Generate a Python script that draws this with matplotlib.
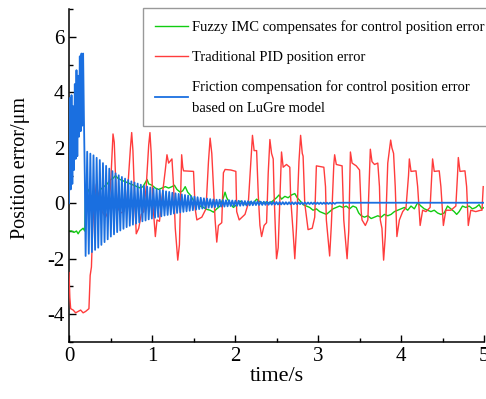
import numpy as np
from matplotlib import pyplot as plt
from matplotlib.ticker import MultipleLocator

# ---- data ----
# traditional PID position error (breakpoints)
red_t = [0.00, 0.01, 0.02, 0.05, 0.08, 0.11, 0.14, 0.17, 0.20, 0.24, 0.255, 0.27, 0.285, 0.30,
         0.33, 0.36, 0.40, 0.44, 0.47, 0.50,
         0.53, 0.545, 0.56, 0.58, 0.62, 0.66, 0.70,
         0.74, 0.755, 0.77, 0.79, 0.81, 0.84, 0.87, 0.90, 0.93,
         0.96, 0.975, 0.99, 1.01, 1.04, 1.06, 1.09, 1.12,
         1.16, 1.18, 1.20, 1.24, 1.26, 1.28, 1.31, 1.33,
         1.357, 1.37, 1.38, 1.50, 1.52, 1.54, 1.60, 1.65,
         1.68, 1.70, 1.72, 1.74, 1.76, 1.78, 1.80, 1.84,
         1.86, 1.88, 1.95, 2.01, 2.02, 2.05, 2.12, 2.16,
         2.19, 2.21, 2.23, 2.26, 2.28, 2.30, 2.32, 2.35, 2.38,
         2.40, 2.42, 2.44, 2.46, 2.47, 2.49, 2.50, 2.52,
         2.56, 2.58, 2.62, 2.66, 2.67, 2.70, 2.72, 2.74,
         2.77, 2.79, 2.81, 2.82, 2.84, 2.88, 2.93, 2.96,
         2.98, 3.07, 3.09, 3.10, 3.14, 3.16,
         3.19, 3.20, 3.22, 3.29, 3.30, 3.31, 3.35, 3.37,
         3.39, 3.41, 3.46, 3.50, 3.52, 3.53, 3.57, 3.60,
         3.63, 3.65, 3.68, 3.72, 3.74, 3.75, 3.77, 3.79, 3.81,
         3.84, 3.875, 3.89, 3.91, 3.93, 3.95, 3.98, 4.02, 4.06,
         4.09, 4.10, 4.12, 4.18, 4.20, 4.23, 4.26, 4.30, 4.35,
         4.37, 4.38, 4.40, 4.46, 4.48, 4.51, 4.54, 4.60, 4.66,
         4.68, 4.69, 4.71, 4.77, 4.79, 4.81, 4.84, 4.90, 4.96, 4.975, 4.99]
red_v = [-2.5, -3.4, -3.8, -3.85, -3.95, -3.9, -3.85, -3.95, -3.9, -3.8, -2.6, -2.3, -0.9, -0.1,
         0.7, 0.2, -0.3, -0.5, -0.3, 0.6,
         2.5, 2.2, 1.0, -0.1, -0.35, -0.3, 0.2,
         2.0, 2.55, 1.9, 0.2, -1.1, -0.9, -0.4, -0.3, 0.6,
         2.1, 2.55, 1.8, 0.0, -1.2, -0.6, -0.65, 0.2,
         1.2, 1.75, 1.45, 1.6, 0.6, -0.9, -2.05, -1.5,
         1.75, 1.3, 1.17, 1.15, -0.2, -0.6, -0.5, -0.2,
         1.5, 2.35, 1.8, 0.6, -0.6, -1.4, -0.8, -0.7,
         1.1, 1.22, 1.2, 1.15, -0.3, -0.6, -0.4, 0.0,
         1.5, 2.45, 1.9, 1.9, 0.3, -0.8, -1.2, -0.8, -0.7,
         1.1, 2.3, 1.8, 1.6, 0.4, -1.3, -2.0, -1.6,
         1.85, 1.3, 1.4, 1.3, 0.2, -1.05, -2.0, -0.9,
         1.5, 2.45, 1.8, 1.7, 0.0, -0.95, -0.9, -0.5,
         1.35, 1.3, 0.6, -0.6, -1.9, -0.8,
         1.4, 1.75, 1.4, 1.35, 0.4, -0.6, -2.0, -1.0,
         1.85, 1.45, 1.35, 1.2, -0.3, -0.6, -0.8, -0.6,
         1.95, 1.5, 1.4, 1.45, 0.6, -0.6, -0.9, -2.05, -1.2,
         1.45, 2.28, 2.0, 1.8, 0.6, -1.2, -0.6, -0.3, -0.15,
         1.0, 1.6, 1.15, 1.17, 0.6, -0.8, -0.25, -0.3, -0.15,
         1.0, 1.6, 1.15, 1.17, 0.6, -0.8, -0.25, -0.25, -0.1,
         1.0, 1.65, 1.15, 1.17, 0.6, -0.8, -0.25, -0.3, -0.25, -0.25, 0.6]

# fuzzy IMC position error
green_t = [0.00, 0.03, 0.06, 0.09, 0.11, 0.13, 0.15, 0.17, 0.19, 0.20, 0.23, 0.27, 0.30, 0.34, 0.38,
           0.42, 0.46, 0.50, 0.53, 0.56, 0.59, 0.62, 0.66, 0.70, 0.74, 0.78, 0.82, 0.86, 0.89,
           0.92, 0.94, 0.96, 1.00, 1.04, 1.08, 1.12, 1.16, 1.20, 1.24, 1.27, 1.30, 1.34, 1.37,
           1.40, 1.43, 1.46, 1.50, 1.54, 1.58, 1.62, 1.66, 1.70, 1.74, 1.78, 1.82, 1.86, 1.88,
           1.90, 1.94, 1.98, 2.02, 2.06, 2.10, 2.14, 2.18, 2.22, 2.26, 2.30, 2.34, 2.38, 2.42,
           2.46, 2.50, 2.53, 2.56, 2.60, 2.64, 2.68, 2.72, 2.75, 2.78, 2.82, 2.86, 2.90, 2.94,
           2.98, 3.02, 3.06, 3.10, 3.14, 3.18, 3.22, 3.26, 3.30, 3.34, 3.38, 3.42, 3.46, 3.49,
           3.52, 3.56, 3.60, 3.64, 3.68, 3.72, 3.76, 3.80, 3.84, 3.88, 3.92, 3.96, 4.00, 4.04,
           4.08, 4.12, 4.16, 4.20, 4.24, 4.28, 4.32, 4.36, 4.40, 4.44, 4.48, 4.52, 4.56, 4.60,
           4.64, 4.67, 4.70, 4.74, 4.78, 4.82, 4.86, 4.90, 4.94, 4.97, 5.00]
green_v = [-1.0, -1.0, -1.05, -1.0, -1.1, -1.0, -0.95, -0.9, -1.0, 0.4, 0.5, 0.2, 0.4, 0.2, 0.5,
           0.6, 0.7, 0.85, 0.9, 1.0, 0.9, 0.85, 0.8, 0.75, 0.7, 0.65, 0.6, 0.55, 0.6,
           0.75, 0.86, 0.7, 0.65, 0.55, 0.5, 0.55, 0.6, 0.55, 0.6, 0.65, 0.5, 0.4, 0.45,
           0.6, 0.4, 0.3, 0.1, 0.0, -0.1, -0.15, -0.22, -0.25, -0.32, -0.2, -0.1, 0.2, 0.4,
           0.2, 0.0, -0.15, -0.05, 0.08, 0.0, -0.05, 0.05, 0.0, 0.15, 0.05, 0.0, 0.05, 0.0,
           0.1, 0.2, 0.3, 0.15, 0.25, 0.2, 0.3, 0.35, 0.2, 0.1, -0.05, -0.1, -0.15, -0.25,
           -0.2, -0.3, -0.35, -0.4, -0.3, -0.2, -0.15, -0.1, -0.15, -0.1, -0.2, -0.1, -0.15, -0.35,
           -0.45, -0.5, -0.45, -0.55, -0.5, -0.45, -0.5, -0.4, -0.45, -0.4, -0.3, -0.25, -0.2, -0.15,
           -0.25, -0.1, -0.2, 0.02, -0.1, -0.2, -0.25, -0.3, -0.25, -0.35, -0.4, -0.35, -0.1, -0.2,
           -0.3, -0.4, -0.3, -0.1, -0.15, -0.1, -0.2, -0.15, -0.05, -0.2, -0.15]

# LuGre friction compensation: start-up part
blue_t_start = [0.0, 0.005, 0.012, 0.02, 0.03, 0.04, 0.05, 0.06, 0.07, 0.08, 0.09, 0.10,
                0.11, 0.12, 0.13, 0.14, 0.15, 0.16, 0.17, 0.18, 0.19]
blue_v_start = [0.0, 2.0, 3.8, 0.5, 3.9, 0.7, 3.5, 1.2, 4.3, 1.6, 4.8, 1.7,
                4.6, 2.4, 5.3, 2.6, 5.4, 2.8, 5.4, 3.0, 1.0]
# then oscillation peaks every half period from t = 0.2 s
blue_half_period = 0.019
blue_peaks = [-1.90, 1.86, -1.82, 1.79, -1.76, 1.73, -1.68, 1.64, -1.60, 1.56,
              -1.50, 1.45, -1.40, 1.35, -1.30, 1.25, -1.20, 1.16, -1.12, 1.08,
              -1.04, 1.01, -0.98, 0.95, -0.92, 0.89, -0.86, 0.84, -0.81, 0.79,
              -0.77, 0.75, -0.73, 0.71, -0.69, 0.67, -0.65, 0.63, -0.62, 0.60,
              -0.58, 0.57, -0.55, 0.54, -0.52, 0.51, -0.49, 0.48, -0.47, 0.46,
              -0.44, 0.43, -0.42, 0.41, -0.40, 0.38, -0.37, 0.36, -0.35, 0.34,
              -0.33, 0.32, -0.31, 0.30, -0.29, 0.28, -0.27, 0.26, -0.25, 0.24,
              -0.23, 0.22, -0.21, 0.20, -0.19, 0.18, -0.18, 0.17, -0.16, 0.15,
              -0.15, 0.14, -0.14, 0.13, -0.13, 0.13, -0.12, 0.12, -0.12, 0.11,
              -0.11, 0.11, -0.10, 0.10, -0.10, 0.095, -0.09, 0.09, -0.09, 0.085,
              -0.08, 0.08, -0.08, 0.075, -0.075, 0.07, -0.07, 0.07, -0.065, 0.065,
              -0.06, 0.06, -0.06, 0.058, -0.055, 0.055, -0.052, 0.05, -0.05, 0.048,
              -0.046, 0.045, -0.044, 0.043, -0.042, 0.041, -0.04, 0.039, -0.038, 0.037,
              -0.036, 0.035, -0.034, 0.034, -0.033, 0.032, -0.031, 0.031, -0.03, 0.03,
              -0.029, 0.029, -0.028, 0.028, -0.027, 0.027, -0.026, 0.026, -0.025, 0.025,
              -0.024, 0.024, -0.023, 0.023, -0.022, 0.022, -0.021, 0.021, -0.02, 0.02]
blue_t_end = [3.25, 5.0]
blue_v_end = [0.02, 0.02]

names = ['Fuzzy IMC compensates for control position error',
         'Traditional PID position error',
         'Friction compensation for control position error\nbased on LuGre model']

# ---- plot ----
plt.rcParams['font.family'] = ['Liberation Serif', 'DejaVu Serif']
plt.rcParams['axes.unicode_minus'] = False

blue_t = np.concatenate([blue_t_start,
                         0.2 + blue_half_period * np.arange(len(blue_peaks)),
                         blue_t_end])
blue_v = np.concatenate([blue_v_start, blue_peaks, blue_v_end])

fig = plt.figure(figsize=(4.86, 3.99), dpi=100)
ax = fig.add_axes([0.142, 0.143, 0.854, 0.834])

ax.plot(green_t, green_v, color='#11cc11', lw=1.0, label=names[0], zorder=2)
ax.plot(red_t, red_v, color='#ff3c3c', lw=1.0, label=names[1], zorder=3)
ax.plot(blue_t, blue_v, color='#1a6fe0', lw=1.3, label=names[2], zorder=4)

ax.set_xlim(0, 5)
ax.set_ylim(-5, 7)
ax.xaxis.set_major_locator(MultipleLocator(1))
ax.xaxis.set_minor_locator(MultipleLocator(0.5))
ax.yaxis.set_minor_locator(MultipleLocator(1))
ax.set_yticks([-4, -2, 0, 2, 4, 6])
ax.tick_params(which='both', direction='in', labelsize=15, width=1)
ax.tick_params(which='major', length=5)
ax.tick_params(which='minor', length=3)
for s in ['top', 'right']:
    ax.spines[s].set_visible(False)
for s in ['left', 'bottom']:
    ax.spines[s].set_linewidth(1.1)

ax.set_xlabel('time/s', fontsize=16, labelpad=1)
ax.set_ylabel('Position error/μm', fontsize=14.5)
ax.yaxis.set_label_coords(-0.094, 0.523)

leg = ax.legend(loc='upper left', bbox_to_anchor=(0.178, 1.003), fontsize=10.5,
                frameon=True, fancybox=False, edgecolor='#808080',
                handlelength=2.3, handletextpad=0.3, borderpad=0.8,
                labelspacing=1.15, borderaxespad=0.0)
leg.get_frame().set_linewidth(1.0)
leg.set_zorder(10)
for t in leg.get_texts():
    t.set_linespacing(1.75)

fig.savefig('out.png', dpi=100)
